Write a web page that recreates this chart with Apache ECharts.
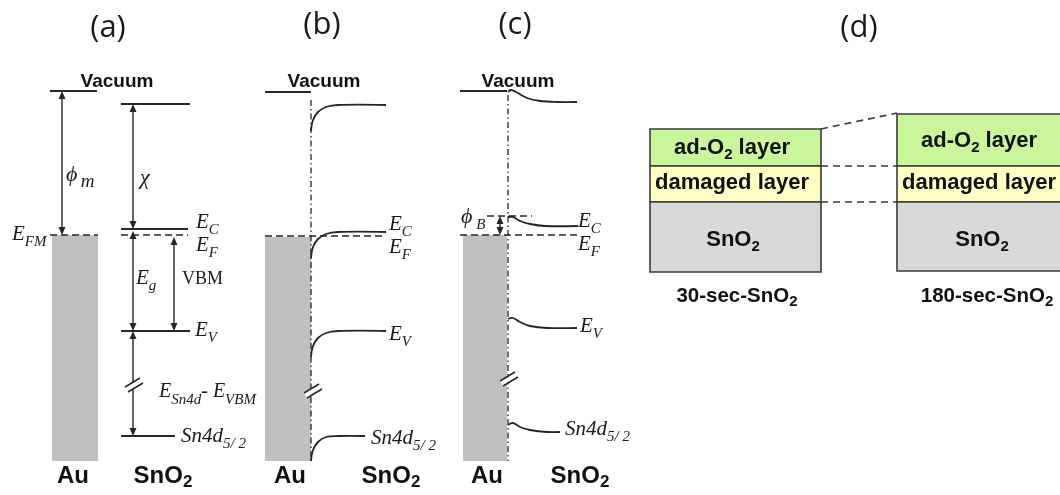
<!DOCTYPE html>
<html><head><meta charset="utf-8">
<script src="https://cdn.jsdelivr.net/npm/echarts@6/dist/echarts.min.js"></script>
<style>html,body{margin:0;padding:0;background:#fff}#c{width:1060px;height:495px}</style>
</head><body><div id="c"></div>
<script>
// ---------------- data (schematic units: x across the figure, y = energy, downward) ----------------
const solidLevels = [ // [xStart, xEnd, y]
  [50, 97, 91], [121, 190, 104], [121, 188, 229], [121, 190, 331], [121, 175, 436],
  [265, 311, 92],
  [460, 507, 91]
];
const dashedLevels = [ // [xStart, xEnd, y]
  [50, 98, 235], [121, 188, 235],
  [265, 386, 236],
  [460, 577, 235], [487, 532, 216]
];
const interfaceLines = [ // [x, yTop, yBottom]
  [311, 100, 461], [508, 95, 461]
];
const bentBands = [ // (b) downward bending, (c) slight upward bending
  [[311,131],[313,120],[318,112],[326,107],[338,105],[386,105]],
  [[311,258],[313,247],[318,239],[326,234],[338,232],[386,232]],
  [[311,357],[313,346],[318,338],[326,333],[338,331],[386,331]],
  [[311,461],[313,450],[318,442],[326,437],[338,436],[365,436]],
  [[508,92],[511,90],[516,92],[527,98],[540,101],[557,102],[577,102]],
  [[508,217],[513,217],[520,221],[530,224],[545,226],[578,226]],
  [[508,319],[513,318],[520,322],[530,326],[547,328],[577,328]],
  [[508,425],[513,423],[520,427],[530,430],[547,432],[560,432]]
];
const arrows = [ // [x, yFrom, yTo] double headed
  [62, 91, 235], [133, 104, 229], [133, 231, 331], [174, 237, 331], [133, 331, 436], [500, 216, 235]
];
const breaks = [[133, 386], [312, 392], [508, 380]];
const metalBlocks = [[52, 235, 98, 461], [265, 237, 311, 461], [463, 235, 507, 461]];
const stack30 = [[650, 129, 821, 166], [650, 166, 821, 202], [650, 202, 821, 272]];
const stack180 = [[897, 114, 1064, 166], [897, 166, 1064, 202], [897, 202, 1064, 271]];
const connectors = [[821, 129, 897, 113], [821, 166, 897, 166], [821, 202, 897, 202]];

const panelTitles = [['(a)', 108, 28], ['(b)', 322, 25], ['(c)', 515, 25], ['(d)', 859, 28]];
const vacuumTitles = [['Vacuum', 117, 82], ['Vacuum', 324, 82], ['Vacuum', 518, 82]];
const materialLabels = [
  ['{m|Au}', 73, 476], ['{m|SnO}{b|2}', 163, 476],
  ['{m|Au}', 290, 476], ['{m|SnO}{b|2}', 391, 476],
  ['{m|Au}', 487, 476], ['{m|SnO}{b|2}', 580, 476]
];
const energyLabels = [
  ['{e|E}{s|FM}', 12, 234],
  ['{g|ϕ} {sm|m}', 66, 175],
  ['{g|χ}', 140, 178],
  ['{e|E}{s|C}', 196, 222],
  ['{e|E}{s|F}', 196, 245],
  ['{e|E}{s|g}', 136, 278],
  ['{r|VBM}', 182, 279],
  ['{e|E}{s|V}', 195, 330],
  ['{e2|E}{s|Sn4d}{e2|- E}{s|VBM}', 159, 392],
  ['{n|Sn4d}{s|5/ 2}', 181, 436],
  ['{e|E}{s|C}', 389, 224],
  ['{e|E}{s|F}', 389, 247],
  ['{e|E}{s|V}', 389, 334],
  ['{n|Sn4d}{s|5/ 2}', 371, 438],
  ['{g|ϕ}{s| B}', 461, 217],
  ['{e|E}{s|C}', 578, 221],
  ['{e|E}{s|F}', 578, 244],
  ['{e|E}{s|V}', 580, 326],
  ['{n|Sn4d}{s|5/ 2}', 565, 429]
];
const layerLabels = [
  ['{m|ad-O}{s|2}{m| layer}', 732, 148], ['{m|damaged layer}', 732, 183], ['{m|SnO}{s|2}', 733, 240],
  ['{m|ad-O}{s|2}{m| layer}', 979, 141], ['{m|damaged layer}', 979, 183], ['{m|SnO}{s|2}', 982, 240]
];
const captions = [['{m|30-sec-SnO}{s|2}', 737, 296], ['{m|180-sec-SnO}{s|2}', 987, 296]];

// ---------------- styles ----------------
const INK = '#262626';
const SANS = '"Liberation Sans", Arial, sans-serif';
const SERIF = '"Liberation Serif", "DejaVu Serif", serif';

function custom(data, render, z) {
  return { type: 'custom', coordinateSystem: 'cartesian2d', silent: true, clip: false, z: z,
    encode: { x: 0, y: 1 }, data: data.map((d, i) => [0, 0, i]),
    renderItem: (params, api) => render(data[params.dataIndex], api, params.dataIndex) };
}
function rectEl(r, api, fill, stroke) {
  const p1 = api.coord([r[0], r[1]]), p2 = api.coord([r[2], r[3]]);
  return { type: 'rect', shape: { x: p1[0], y: p1[1], width: p2[0] - p1[0], height: p2[1] - p1[1] },
    style: { fill: fill, stroke: stroke || null, lineWidth: 1.6 } };
}
function textEl(t, api, style) {
  const p = api.coord([t[1], t[2]]);
  return { type: 'text', x: p[0], y: p[1], style: Object.assign({ text: t[0] }, style) };
}

const layerFills = ['#cbf59b', '#ffffc4', '#d9d9d9'];
const series = [
  custom(metalBlocks, (r, api) => rectEl(r, api, '#c0c0c0'), 1),
  custom(stack30, (r, api, i) => rectEl(r, api, layerFills[i], '#3a3a3a'), 1),
  custom(stack180, (r, api, i) => rectEl(r, api, layerFills[i], '#3a3a3a'), 1),
  custom(connectors, (c, api) => ({ type: 'line',
    shape: (() => { const a = api.coord([c[0], c[1]]), b = api.coord([c[2], c[3]]); return { x1: a[0], y1: a[1], x2: b[0], y2: b[1] }; })(),
    style: { stroke: '#3a3a3a', lineWidth: 1.6, lineDash: [7, 5] } }), 2),
  custom(solidLevels, (l, api) => ({ type: 'polyline',
    shape: { points: [api.coord([l[0], l[2]]), api.coord([l[1], l[2]])] },
    style: { stroke: INK, lineWidth: 2, fill: null } }), 3),
  custom(dashedLevels, (l, api) => ({ type: 'polyline',
    shape: { points: [api.coord([l[0], l[2]]), api.coord([l[1], l[2]])] },
    style: { stroke: INK, lineWidth: 1.6, lineDash: [7, 4], fill: null } }), 3),
  custom(interfaceLines, (l, api) => ({ type: 'polyline',
    shape: { points: [api.coord([l[0], l[1]]), api.coord([l[0], l[2]])] },
    style: { stroke: INK, lineWidth: 1.3, lineDash: [6, 3, 1.5, 3], fill: null } }), 3),
  custom(bentBands, (pts, api) => ({ type: 'polyline',
    shape: { points: pts.map(p => api.coord(p)), smooth: 0.35 },
    style: { stroke: INK, lineWidth: 1.8, fill: null } }), 3),
  custom(arrows, (a, api) => {
    const p1 = api.coord([a[0], a[1]]), p2 = api.coord([a[0], a[2]]);
    const h = 8, w = 3.5;
    return { type: 'group', children: [
      { type: 'line', shape: { x1: p1[0], y1: p1[1] + 2, x2: p2[0], y2: p2[1] - 2 }, style: { stroke: INK, lineWidth: 1.4 } },
      { type: 'polygon', shape: { points: [[p1[0], p1[1]], [p1[0] - w, p1[1] + h], [p1[0] + w, p1[1] + h]] }, style: { fill: INK } },
      { type: 'polygon', shape: { points: [[p2[0], p2[1]], [p2[0] - w, p2[1] - h], [p2[0] + w, p2[1] - h]] }, style: { fill: INK } }
    ] };
  }, 4),
  custom(breaks, (b, api) => {
    const c = api.coord(b);
    return { type: 'group', children: [
      { type: 'polygon', shape: { points: [[c[0] - 8, c[1] + 1], [c[0] + 7, c[1] - 8], [c[0] + 10, c[1] - 3], [c[0] - 5, c[1] + 6]] }, style: { fill: '#fff' } },
      { type: 'line', shape: { x1: c[0] - 8, y1: c[1] + 1, x2: c[0] + 7, y2: c[1] - 8 }, style: { stroke: INK, lineWidth: 1.5 } },
      { type: 'line', shape: { x1: c[0] - 5, y1: c[1] + 6, x2: c[0] + 10, y2: c[1] - 3 }, style: { stroke: INK, lineWidth: 1.5 } }
    ] };
  }, 5),
  custom(panelTitles, (t, api) => textEl(t, api, { fill: '#1a1a1a', fontFamily: '"Open Sans", sans-serif', fontSize: 31, align: 'center', verticalAlign: 'middle' }), 6),
  custom(vacuumTitles, (t, api) => textEl(t, api, { fill: '#111', fontFamily: SANS, fontWeight: 'bold', fontSize: 19, align: 'center', verticalAlign: 'middle' }), 6),
  custom(materialLabels, (t, api) => textEl(t, api, { fill: '#111', align: 'center', verticalAlign: 'middle',
    rich: { m: { fontFamily: SANS, fontWeight: 'bold', fontSize: 24, lineHeight: 30, fill: '#111' },
            b: { fontFamily: SANS, fontWeight: 'bold', fontSize: 17, lineHeight: 10, verticalAlign: 'bottom', fill: '#111' } } }), 6),
  custom(energyLabels, (t, api) => textEl(t, api, { fill: '#1a1a1a', align: 'left', verticalAlign: 'middle',
    rich: { e: { fontFamily: SERIF, fontStyle: 'italic', fontSize: 21, lineHeight: 32, fill: '#1a1a1a' },
            e2: { fontFamily: SERIF, fontStyle: 'italic', fontSize: 20, lineHeight: 32, fill: '#1a1a1a' },
            g: { fontFamily: SERIF, fontStyle: 'italic', fontSize: 22, lineHeight: 32, fill: '#1a1a1a' },
            n: { fontFamily: SERIF, fontStyle: 'italic', fontSize: 21, lineHeight: 32, fill: '#1a1a1a' },
            r: { fontFamily: SERIF, fontSize: 18, lineHeight: 32, fill: '#1a1a1a' },
            s: { fontFamily: SERIF, fontStyle: 'italic', fontSize: 15, lineHeight: 12, verticalAlign: 'bottom', fill: '#1a1a1a' },
            sm: { fontFamily: SERIF, fontStyle: 'italic', fontSize: 19, lineHeight: 22, verticalAlign: 'bottom', fill: '#1a1a1a' } } }), 6),
  custom(layerLabels, (t, api) => textEl(t, api, { fill: '#111', align: 'center', verticalAlign: 'middle',
    rich: { m: { fontFamily: SANS, fontWeight: 'bold', fontSize: 22, lineHeight: 28, fill: '#111' },
            s: { fontFamily: SANS, fontWeight: 'bold', fontSize: 15, lineHeight: 10, verticalAlign: 'bottom', fill: '#111' } } }), 6),
  custom(captions, (t, api) => textEl(t, api, { fill: '#111', align: 'center', verticalAlign: 'middle',
    rich: { m: { fontFamily: SANS, fontWeight: 'bold', fontSize: 20.5, lineHeight: 26, fill: '#111' },
            s: { fontFamily: SANS, fontWeight: 'bold', fontSize: 15, lineHeight: 10, verticalAlign: 'bottom', fill: '#111' } } }), 6)
];

const chart = echarts.init(document.getElementById('c'), null, { renderer: 'canvas' });
chart.setOption({
  animation: false,
  backgroundColor: '#ffffff',
  grid: { left: 0, right: 0, top: 0, bottom: 0, containLabel: false },
  xAxis: { type: 'value', min: 0, max: 1060, show: false },
  yAxis: { type: 'value', min: 0, max: 495, inverse: true, show: false },
  series: series
});
</script></body></html>
